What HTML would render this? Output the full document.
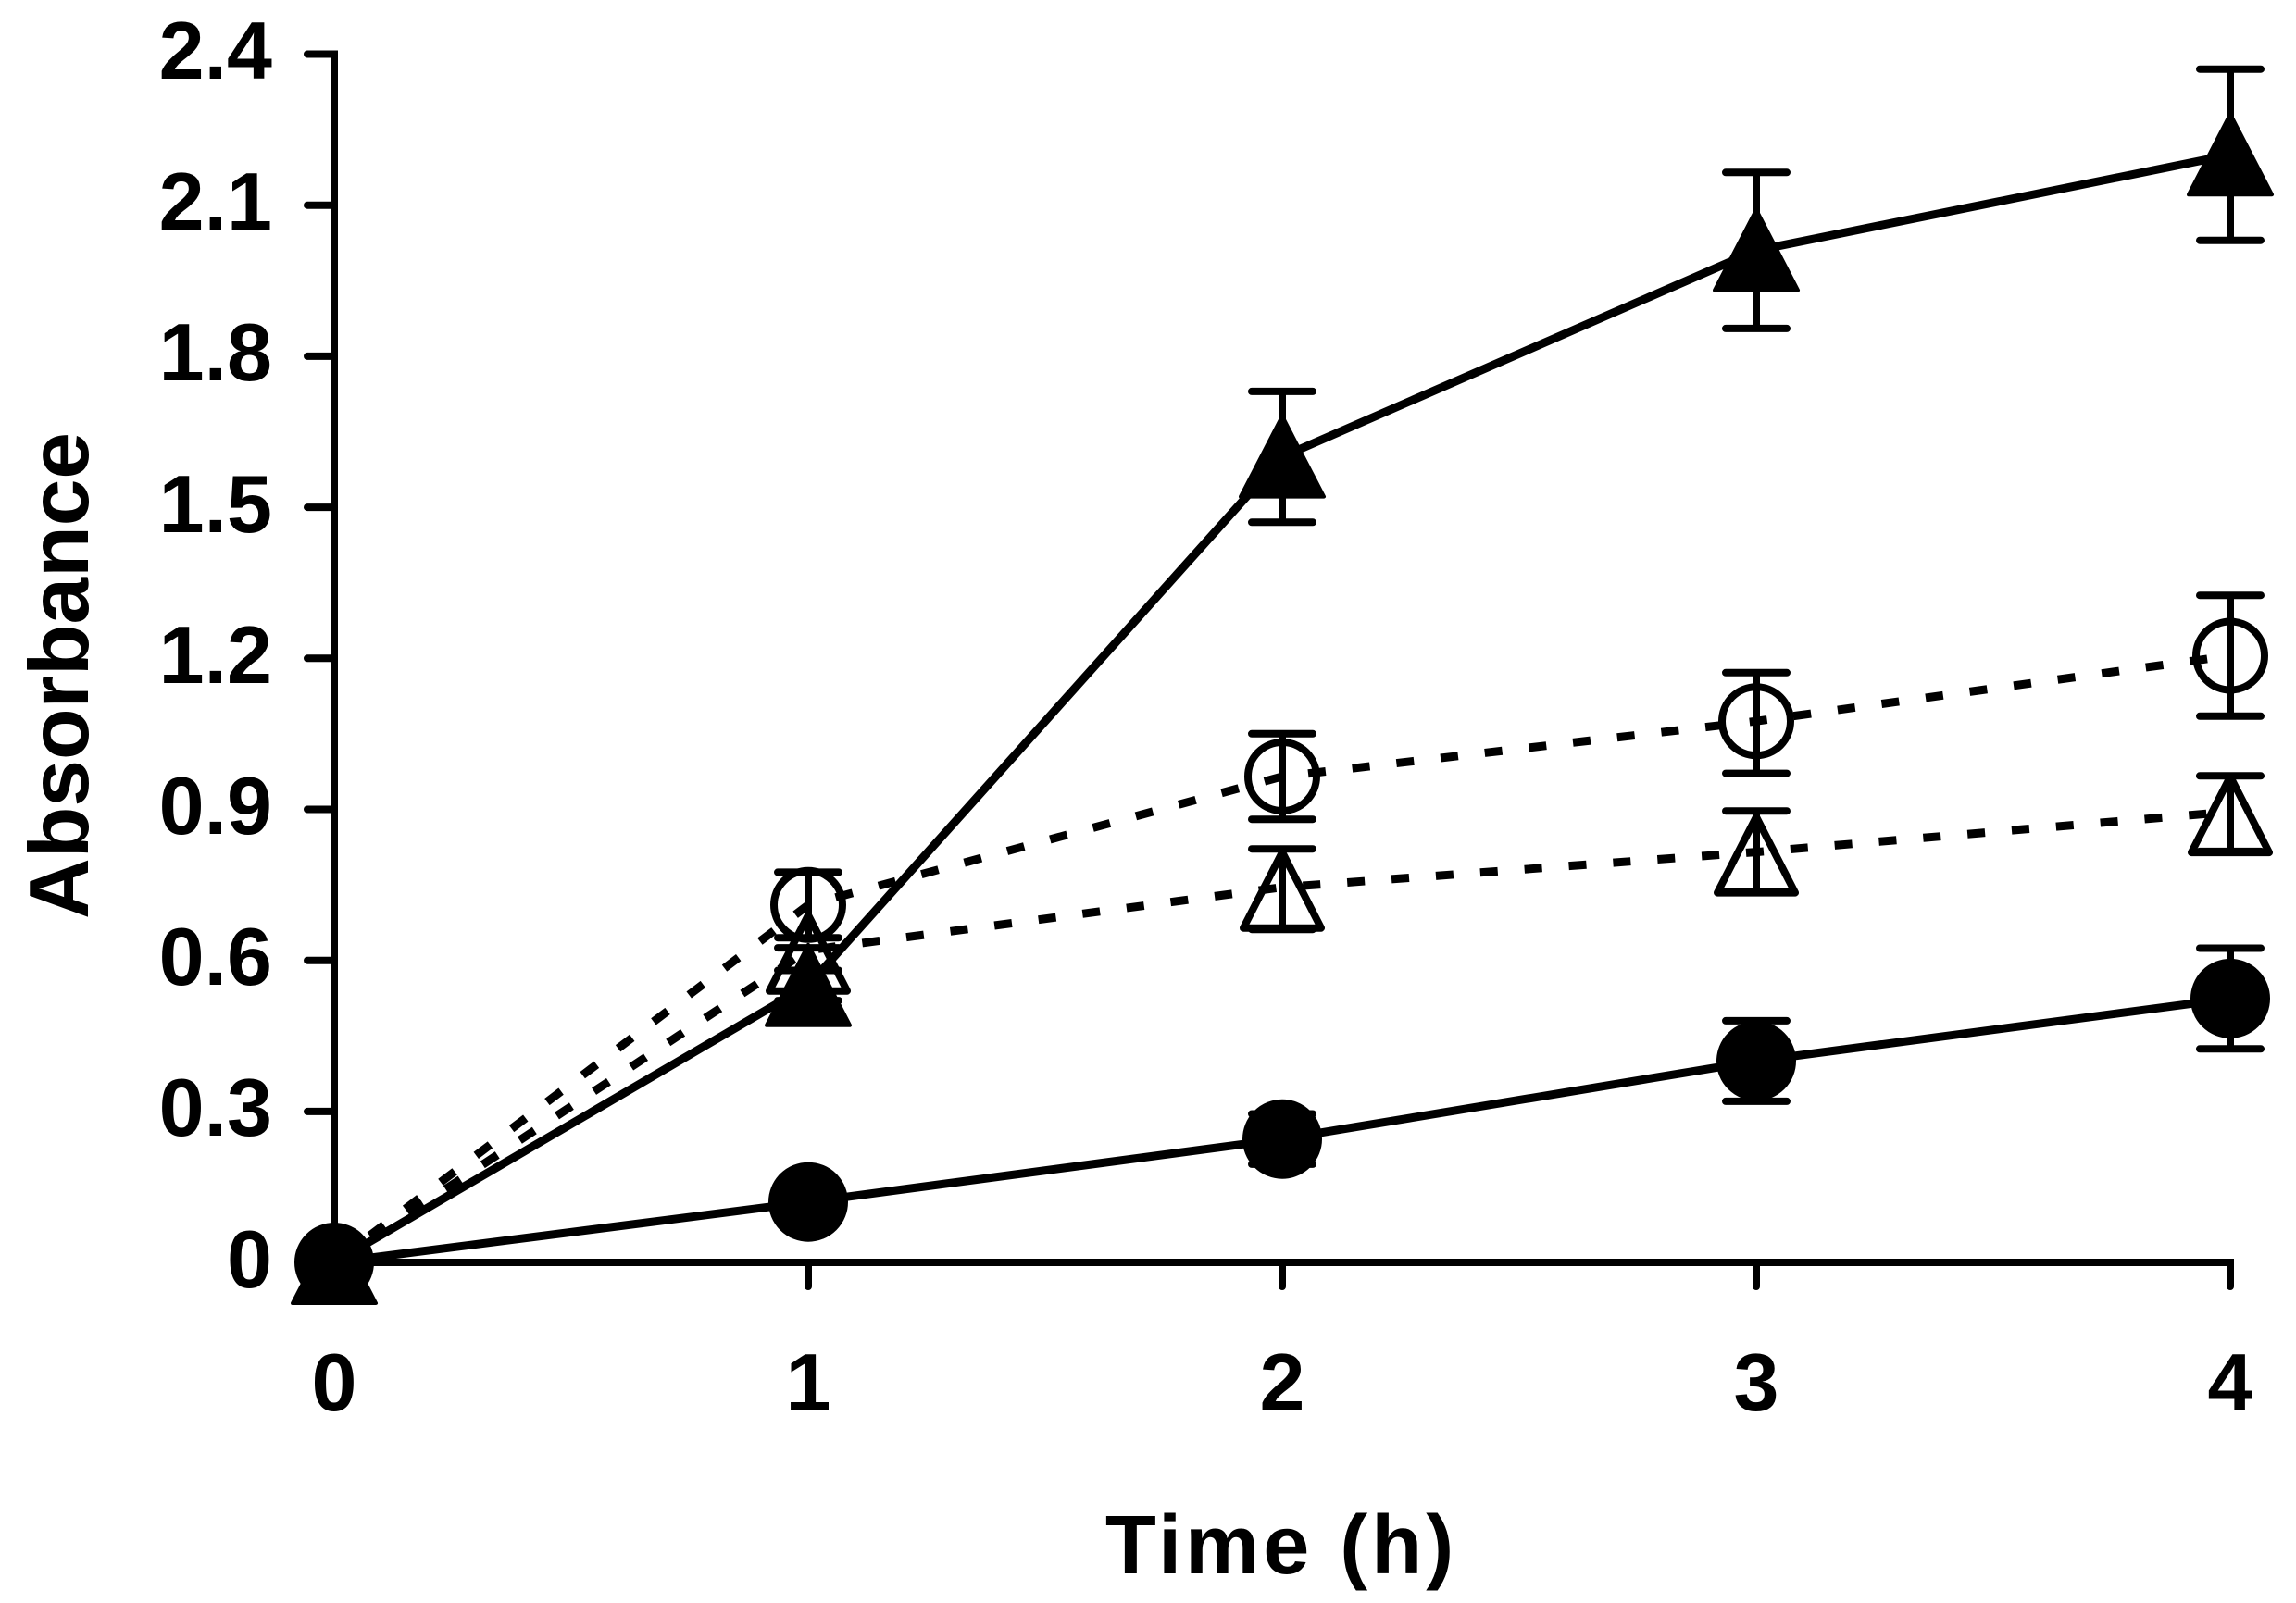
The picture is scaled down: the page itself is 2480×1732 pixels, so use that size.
<!DOCTYPE html>
<html><head><style>
html,body{margin:0;padding:0;background:#fff;}
svg{display:block;}
text{font-family:"Liberation Sans",Arial,sans-serif;font-weight:bold;fill:#000;}
</style></head><body>
<svg width="2480" height="1732" viewBox="0 0 2480 1732" xmlns="http://www.w3.org/2000/svg">
<g stroke="#000" stroke-width="8" stroke-linecap="round" fill="none">
  <polyline points="332,58.5 361,58.5 361,1364 2409,1364 2409,1390"/>
  <line x1="332" y1="221.7" x2="361" y2="221.7"/>
  <line x1="332" y1="384.9" x2="361" y2="384.9"/>
  <line x1="332" y1="548.1" x2="361" y2="548.1"/>
  <line x1="332" y1="711.3" x2="361" y2="711.3"/>
  <line x1="332" y1="874.5" x2="361" y2="874.5"/>
  <line x1="332" y1="1037.7" x2="361" y2="1037.7"/>
  <line x1="332" y1="1200.9" x2="361" y2="1200.9"/>
  <line x1="332" y1="1364" x2="361" y2="1364"/>
  <line x1="361" y1="1364" x2="361" y2="1390"/>
  <line x1="873" y1="1364" x2="873" y2="1390"/>
  <line x1="1385" y1="1364" x2="1385" y2="1390"/>
  <line x1="1897" y1="1364" x2="1897" y2="1390"/>
</g>
<g font-size="88" text-anchor="end">
  <text x="294" y="85">2.4</text>
  <text x="294" y="248">2.1</text>
  <text x="294" y="411">1.8</text>
  <text x="294" y="575">1.5</text>
  <text x="294" y="738">1.2</text>
  <text x="294" y="901">0.9</text>
  <text x="294" y="1064">0.6</text>
  <text x="294" y="1227">0.3</text>
  <text x="294" y="1391">0</text>
</g>
<g font-size="88" text-anchor="middle">
  <text x="361" y="1524">0</text>
  <text x="873" y="1524">1</text>
  <text x="1385" y="1524">2</text>
  <text x="1897" y="1524">3</text>
  <text x="2409" y="1524">4</text>
</g>
<text x="1384" y="1700" font-size="90" text-anchor="middle" letter-spacing="4">Time (h)</text>
<text transform="translate(95,730) rotate(-90)" font-size="91" text-anchor="middle">Absorbance</text>

<g stroke="#000" stroke-width="9" fill="none">
  <polyline stroke-dasharray="19,29" points="361,1364 873,977.8 1385,839 1897,779.2 2409,708.5"/>
  <polyline stroke-dasharray="19,29" points="361,1364 873,1026.7 1385,958.7 1897,920.6 2409,877.1"/>
  <polyline points="361,1364 873,1064.8 1385,493.6 1897,270.6 2409,167.2"/>
  <polyline points="361,1364 873,1298.7 1385,1230.7 1897,1146.4 2409,1078.9"/>
</g>
<g stroke="#000" stroke-width="8" stroke-linecap="round" fill="none">
  <path d="M873,1048.5V1081.1M840,1048.5H906M840,1081.1H906"/>
  <path d="M1385,422.9V564.3M1352,422.9H1418M1352,564.3H1418"/>
  <path d="M1897,186.3V354.9M1864,186.3H1930M1864,354.9H1930"/>
  <path d="M2409,74.7V259.7M2376,74.7H2442M2376,259.7H2442"/>
  <path d="M1385,1203.5V1257.9M1352,1203.5H1418M1352,1257.9H1418"/>
  <path d="M1897,1102.9V1189.9M1864,1102.9H1930M1864,1189.9H1930"/>
  <path d="M2409,1024.5V1133.3M2376,1024.5H2442M2376,1133.3H2442"/>
  <path d="M873,942.4V1013.2M840,942.4H906M840,1013.2H906"/>
  <path d="M1385,792.8V885.2M1352,792.8H1418M1352,885.2H1418"/>
  <path d="M1897,726.8V835.6M1864,726.8H1930M1864,835.6H1930"/>
  <path d="M2409,643.2V773.8M2376,643.2H2442M2376,773.8H2442"/>
  <path d="M873,1024.1V1089.3M840,1024.1H906M840,1089.3H906"/>
  <path d="M1385,917.2V1004.2M1352,917.2H1418M1352,1004.2H1418"/>
  <path d="M1897,876.2V963.2M1864,876.2H1930M1864,963.2H1930"/>
  <path d="M2409,838.3V919.9M2376,838.3H2442M2376,919.9H2442"/>
</g>
<g fill="#000" stroke="#000" stroke-width="4" stroke-linejoin="round">
  <path d="M361,1321L406,1408H316Z"/>
  <path d="M873,1020.8L918,1107.8H828Z"/>
  <path d="M1385,449.6L1430,536.6H1340Z"/>
  <path d="M1897,226.6L1942,313.6H1852Z"/>
  <path d="M2409,123.2L2454,210.2H2364Z"/>
  <circle cx="361" cy="1364" r="41"/>
  <circle cx="873" cy="1298.7" r="41"/>
  <circle cx="1385" cy="1230.7" r="41"/>
  <circle cx="1897" cy="1146.4" r="41"/>
  <circle cx="2409" cy="1078.9" r="41"/>
</g>
<g fill="none" stroke="#000" stroke-width="8" stroke-linejoin="round">
  <circle cx="873" cy="977.8" r="37"/>
  <circle cx="1385" cy="839" r="37"/>
  <circle cx="1897" cy="779.2" r="37"/>
  <circle cx="2409" cy="708.5" r="37"/>
  <path d="M873,988.7L915,1070.7H831Z"/>
  <path d="M1385,920.7L1427,1002.7H1343Z"/>
  <path d="M1897,882.6L1939,964.6H1855Z"/>
  <path d="M2409,839.1L2451,921.1H2367Z"/>
</g>
</svg>
</body></html>
